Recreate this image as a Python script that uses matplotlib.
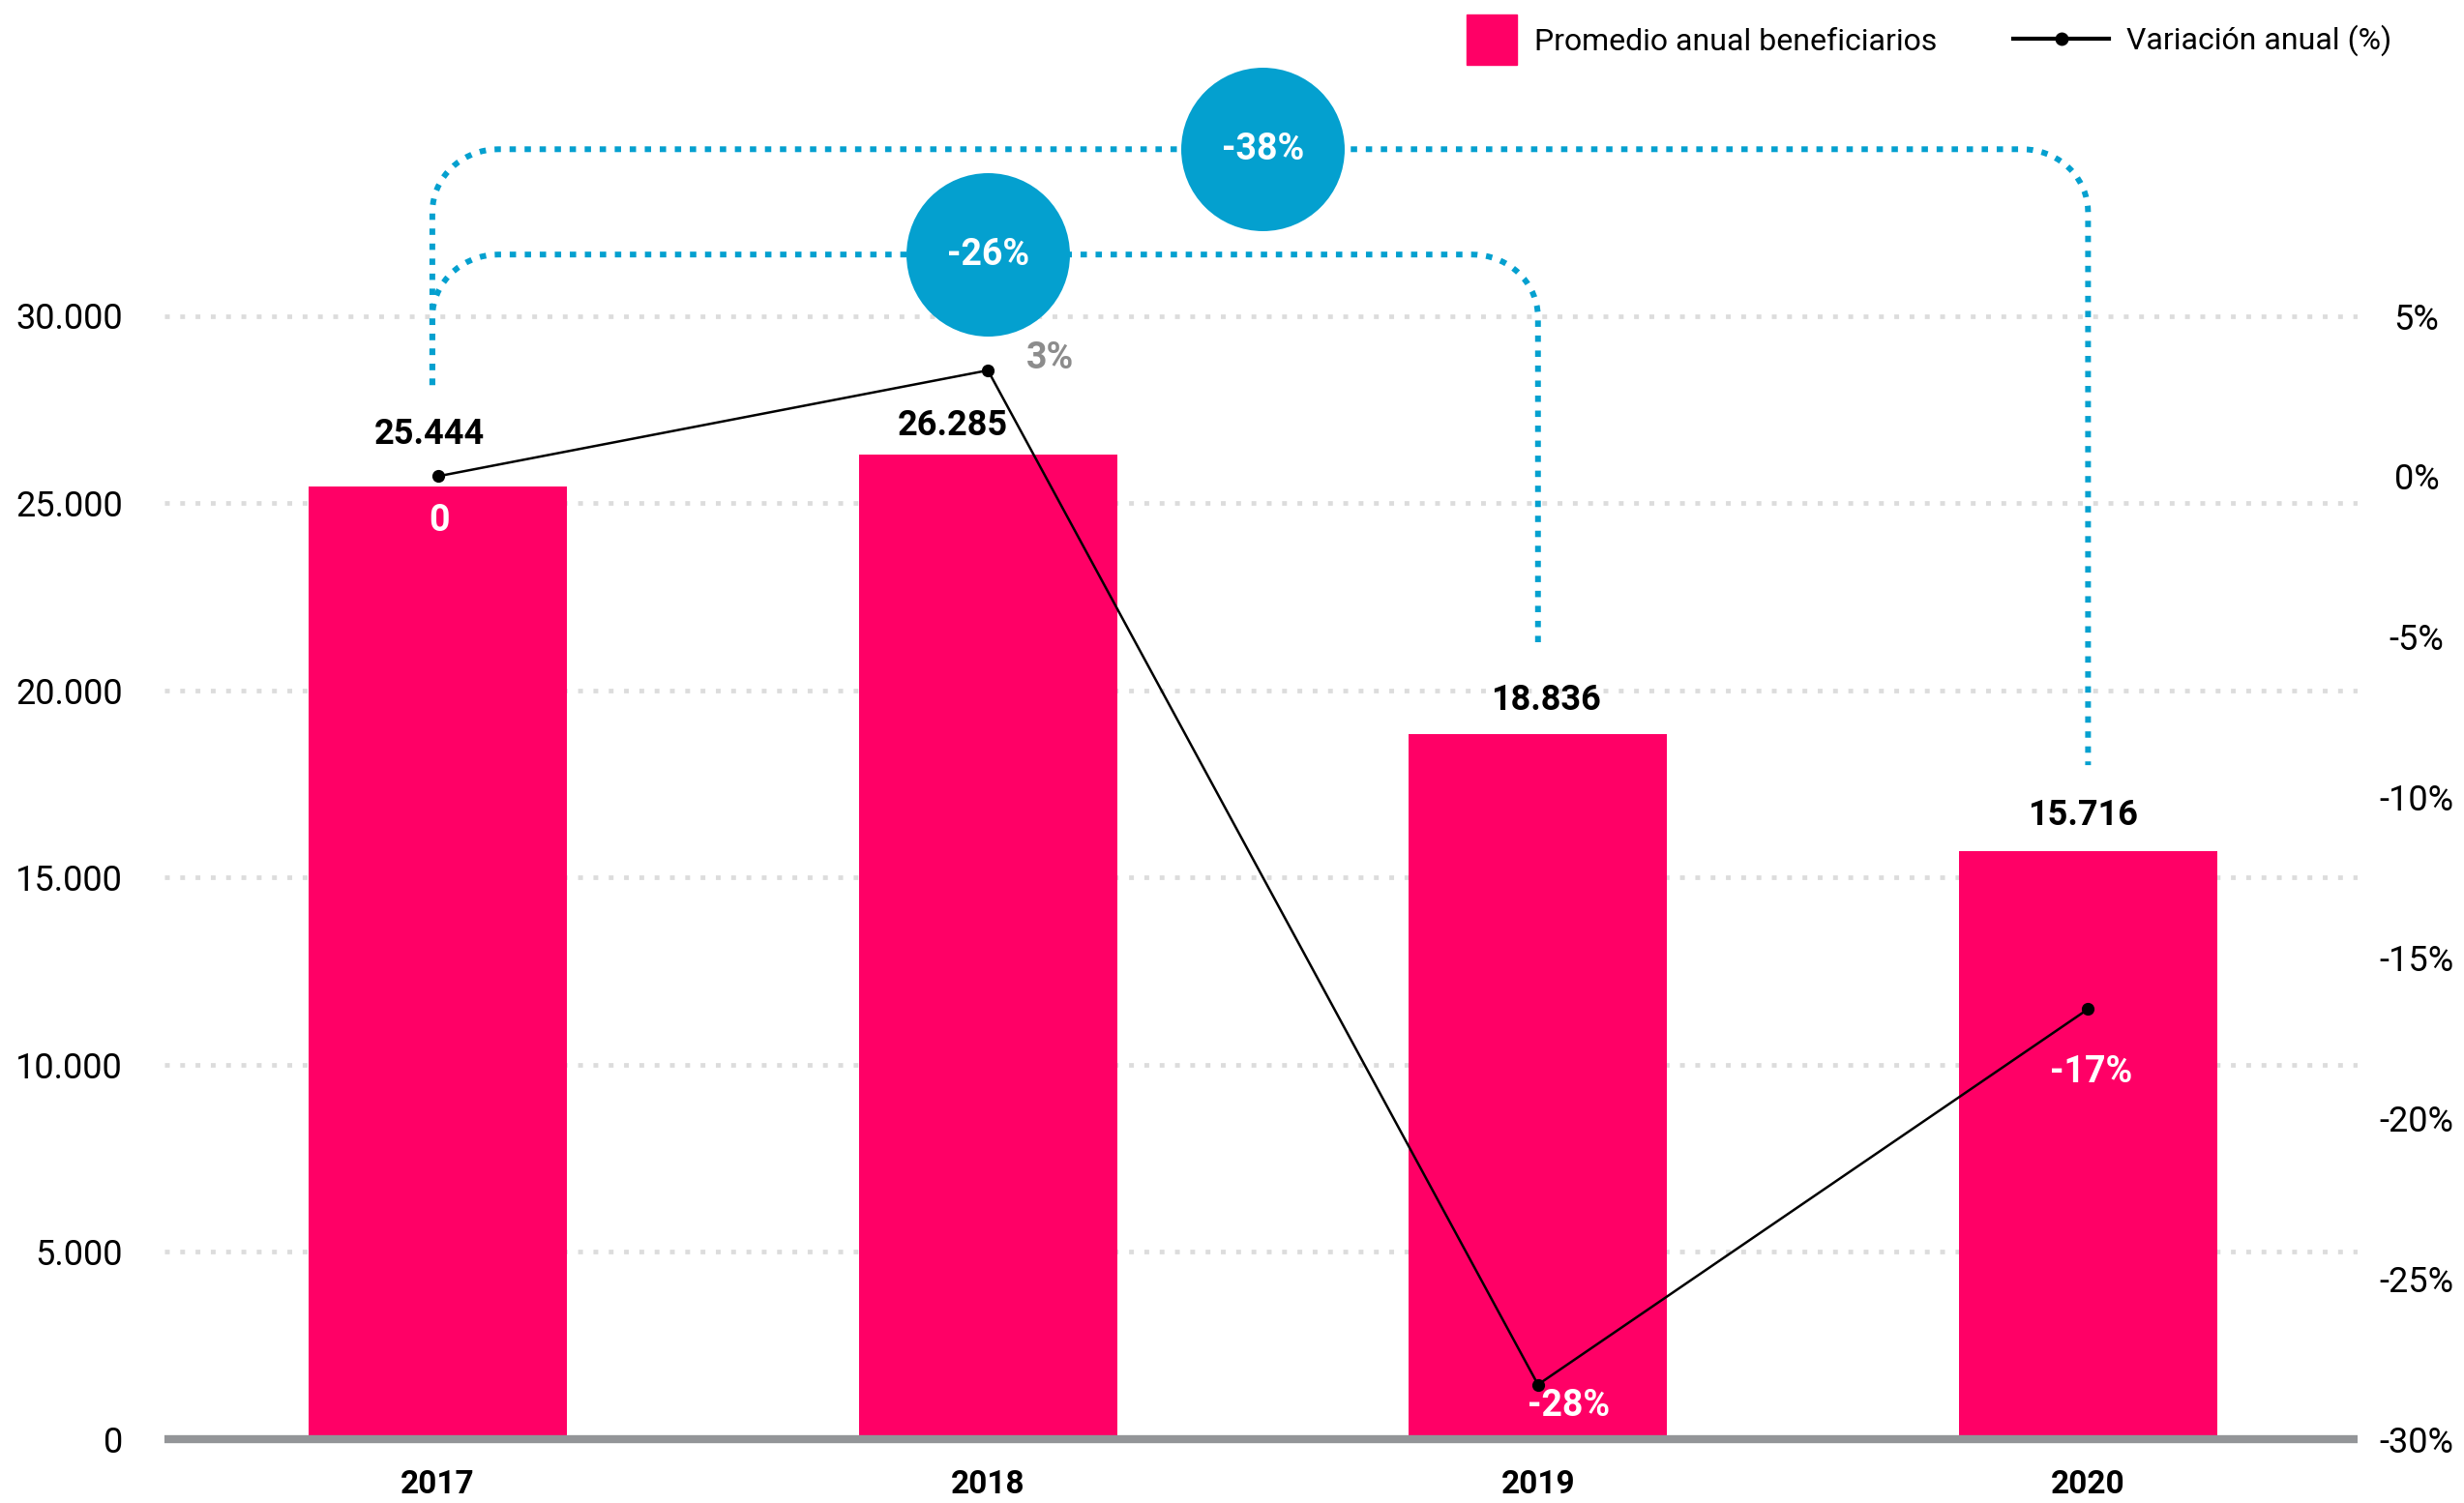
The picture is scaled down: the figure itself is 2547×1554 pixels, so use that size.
import matplotlib.pyplot as plt
from matplotlib.lines import Line2D
import numpy as np

plt.rcParams['font.family'] = ['Roboto', 'DejaVu Sans']

# data
years = ['2017', '2018', '2019', '2020']
beneficiarios = [25444, 26285, 18836, 15716]
valor_labels = ['25.444', '26.285', '18.836', '15.716']
variacion = [0, 3.3, -28.3, -16.6]
variacion_labels = ['0', '3%', '-28%', '-17%']
left_ticks = [0, 5000, 10000, 15000, 20000, 25000, 30000]
left_ticklabels = ['0', '5.000', '10.000', '15.000', '20.000', '25.000', '30.000']
right_ticks = [-30, -25, -20, -15, -10, -5, 0, 5]
right_ticklabels = ['-30%', '-25%', '-20%', '-15%', '-10%', '-5%', '0%', '5%']
# cumulative change 2017 -> 2019 and 2017 -> 2020
tramo_desde = [0, 0]
tramo_hasta = [2, 3]
tramo_labels = ['-26%', '-38%']

PINK = '#FF0066'
BLUE = '#04A0CF'
GREY_AX = '#939598'

W, H = 2547, 1554
fig = plt.figure(figsize=(W / 100, H / 100), dpi=100)
ax = fig.add_axes([170 / W, 66 / H, (2437 - 170) / W, 1488 / H])
ymax = 30000 * 1488 / (1488 - 326.5)
ax.set_ylim(0, ymax)
ax.set_xlim(-0.497, 3.49)

x = np.arange(len(years))
ax.bar(x, beneficiarios, width=0.47, color=PINK, zorder=2)
ax.grid(axis='y', color='#DCDCDC', lw=3.4, linestyle=(0, (1.05, 2.3)))
ax.set_axisbelow(True)
ax.axhline(0, color=GREY_AX, lw=6, zorder=3, solid_capstyle='butt', clip_on=False)

for s in ax.spines.values():
    s.set_visible(False)
ax.set_yticks(left_ticks, left_ticklabels, fontsize=26)
ax.set_xticks(x, years, fontsize=24, fontweight='bold')
ax.tick_params(axis='y', length=0, pad=31)
ax.tick_params(axis='x', length=0, pad=22)

# value labels above bars
val_off = [(-6, 39), (-26, 22), (6, 25), (-4, 26)]
for xi, v, lbl, off in zip(x, beneficiarios, valor_labels, val_off):
    ax.annotate(lbl, (xi, v), xytext=off, textcoords='offset points',
                ha='center', va='center', fontsize=26, fontweight='bold')

# brackets with rounded corners
def bracket(x0, x1, ytop, yl, yr, rx=0.12, ry=1680):
    t1 = np.linspace(np.pi, np.pi / 2, 20)
    t2 = np.linspace(np.pi / 2, 0, 20)
    xs = np.concatenate([[x0, x0], x0 + rx + rx * np.cos(t1),
                         x1 - rx + rx * np.cos(t2), [x1, x1]])
    ys = np.concatenate([[yl, ytop - ry], ytop - ry + ry * np.sin(t1),
                         ytop - ry + ry * np.sin(t2), [ytop - ry, yr]])
    ax.plot(xs, ys, color=BLUE, lw=4.3, linestyle=(0, (1.1, 1.5)),
            dash_capstyle='butt', clip_on=False, zorder=4)

tops = [31636, 34448]
right_ends = [21105, 18000]
for a, b, lbl, top, yr in zip(tramo_desde, tramo_hasta, tramo_labels, tops, right_ends):
    bracket(x[a] - 0.01, x[b], top, 28150, yr)
    mid = (x[a] + x[b]) / 2
    ax.scatter([mid], [top], s=14800, color=BLUE, zorder=5, clip_on=False, linewidths=0)
    ax.text(mid, top, lbl, color='white', fontsize=27, fontweight='bold',
            ha='center', va='center', zorder=6)

# annual variation line
ax2 = ax.twinx()
ax2.set_ylim(-30, -30 + 35 * ymax / 30000)
for s in ax2.spines.values():
    s.set_visible(False)
ax2.plot(x, variacion, color='black', lw=1.8, marker='o', ms=8.5, zorder=4)
ax2.set_yticks(right_ticks, right_ticklabels, fontsize=26)
ax2.tick_params(axis='y', length=0, pad=44)
for t in ax2.get_yticklabels():
    t.set_horizontalalignment('center')

var_off = [(1, -33), (46, 9), (23, -16), (2, -47)]
var_col = ['white', '#8C8C8C', 'white', 'white']
for xi, v, lbl, off, c in zip(x, variacion, variacion_labels, var_off, var_col):
    ax2.annotate(lbl, (xi, v), xytext=off, textcoords='offset points',
                 ha='center', va='center', fontsize=27, fontweight='bold', color=c)

# legend
h1 = Line2D([], [], marker='s', ms=38, ls='none', color=PINK)
h2 = Line2D([], [], color='black', lw=3, marker='o', ms=9)
fig.legend([h1], ['Promedio anual beneficiarios'], loc='center left',
           bbox_to_anchor=(1516 / W, 1 - 44 / H), frameon=False, borderpad=0,
           borderaxespad=0, handlelength=1.6, handletextpad=0.6, fontsize=23)
fig.legend([h2], ['Variación anual (%)'], loc='center left',
           bbox_to_anchor=(2081 / W, 1 - 42 / H), frameon=False, borderpad=0,
           borderaxespad=0, handlelength=3.1, handletextpad=0.55, fontsize=23)

fig.savefig('out.png', dpi=100)
